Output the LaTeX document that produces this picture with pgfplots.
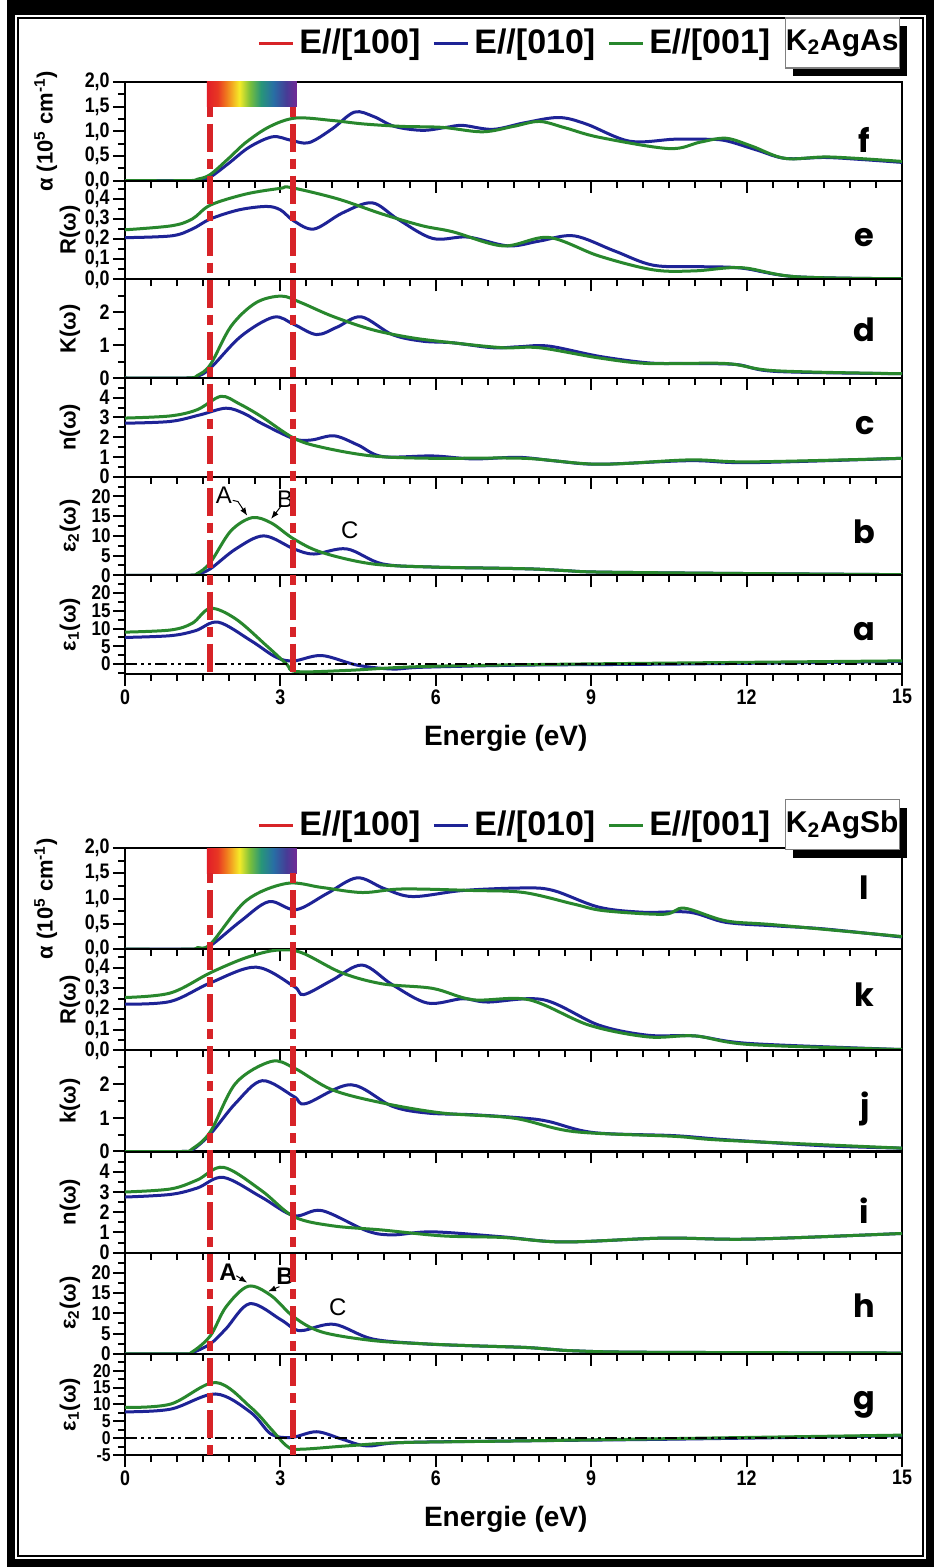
\documentclass[border=0pt]{standalone}
\usepackage{fontspec}
\setmainfont{Liberation Sans}
\newfontfamily\condfont[FakeStretch=0.85]{Liberation Sans}
\newfontfamily\letterfont{Poppins}
\usepackage{pgfplots}
\pgfplotsset{compat=1.18}
\usetikzlibrary{arrows.meta}
\definecolor{cblue}{RGB}{30,35,150}
\definecolor{cgreen}{RGB}{40,135,45}
\definecolor{cred}{RGB}{215,35,40}
\definecolor{rb0}{RGB}{225,30,40}
\definecolor{rb1}{RGB}{232,55,35}
\definecolor{rb2}{RGB}{240,125,30}
\definecolor{rb3}{RGB}{245,235,40}
\definecolor{rb4}{RGB}{120,190,60}
\definecolor{rb5}{RGB}{40,150,120}
\definecolor{rb6}{RGB}{40,110,165}
\definecolor{rb7}{RGB}{70,60,150}
\definecolor{rb8}{RGB}{115,40,150}
\pgfdeclarehorizontalshading{rainbow}{100bp}{color(0bp)=(rb0); color(25bp)=(rb0); color(31bp)=(rb1); color(36bp)=(rb2); color(43bp)=(rb3); color(49bp)=(rb4); color(55bp)=(rb5); color(62bp)=(rb6); color(69bp)=(rb7); color(75bp)=(rb8); color(100bp)=(rb8)}
\newcommand{\tlfont}{\condfont\bfseries\fontsize{10.5}{12}\selectfont}
\newcommand{\tlfonts}{\condfont\bfseries\fontsize{10}{11}\selectfont}
\newcommand{\tlfontxs}{\condfont\bfseries\fontsize{9.3}{10}\selectfont}
\pgfplotsset{
  base/.style={
    scale only axis, width=388.5pt, anchor=north west,
    xmin=0, xmax=15, xtick={0,3,...,15}, minor xtick={0,0.5,...,15},
    tick align=outside, xtick pos=left, ytick pos=left,
    major tick length=6pt, minor tick length=3.5pt,
    every tick/.style={black, line width=1pt},
    axis line style={line width=1pt},
    /pgf/number format/assume math mode=true,
    tick label style={font=\tlfont, inner sep=1.5pt},
    xticklabels={},
    every axis y label/.style={at={(axis description cs:-0.071,0.5)}, rotate=90, anchor=center, font=\bfseries\fontsize{11}{12}\selectfont},
    every axis x label/.style={at={(axis description cs:0.49,0)}, anchor=north, yshift=-22pt, font=\bfseries\fontsize{14}{16}\selectfont},
    legend image code/.code={\draw[#1,line width=1.5pt] (0pt,0pt) -- (17pt,0pt);},
  },
  top/.style={base, height=49.33pt},
  bot/.style={base, height=50.58pt},
  small/.style={yticklabel style={font=\tlfonts, inner sep=1pt}},
  xsmall/.style={yticklabel style={font=\tlfontxs, inner ysep=0pt, inner xsep=1pt}},
  comma/.style={yticklabel style={/pgf/number format/.cd, fixed, fixed zerofill, precision=1, use comma}},
  bl/.style={cblue, line width=1.5pt, smooth, tension=0.55},
  gr/.style={cgreen, line width=1.5pt, smooth, tension=0.55},
  zl/.style={black, line width=1.2pt, dash pattern=on 6pt off 2pt on 1.5pt off 2pt on 1.5pt off 2pt},
  leg/.style={legend style={at={(axis description cs:0.503,#1)}, anchor=center, draw=none, fill=none, legend columns=3, font=\bfseries\fontsize{17}{18}\selectfont, nodes={inner xsep=2pt}, /tikz/every odd column/.append style={column sep=0.5pt}, /tikz/every even column/.append style={column sep=4pt}}},
}
\newcommand{\lett}[2]{\node[font=\letterfont\bfseries\fontsize{16}{18}\selectfont] at (axis description cs:0.952,#1) {#2};}
\newcommand{\compound}[2]{%
  \node[fill=black, minimum width=57pt, minimum height=25pt, inner sep=0pt] at ([xshift=4pt,yshift=-4pt]#1) {};
  \node[fill=white, draw=gray, line width=0.6pt, minimum width=57pt, minimum height=25pt, inner sep=0pt, font=\bfseries\fontsize{15}{16}\selectfont] at (#1) {#2};}
\begin{document}
\begin{tikzpicture}
\useasboundingbox (0,0) rectangle ({936*0.5pt},{-1568*0.5pt});
% frame
\fill[black] ({7*0.5pt},0) rectangle ({934*0.5pt},{-1567*0.5pt});
\fill[white] ({15*0.5pt},{-15*0.5pt}) rectangle ({926*0.5pt},{-1559*0.5pt});
\draw[black, line width=0.8pt] ({18*0.5pt},{-18*0.5pt}) rectangle ({923*0.5pt},{-1556*0.5pt});

%================ TOP GROUP ================
% f: alpha
\begin{axis}[top, comma, leg=1.395, at={({125*0.5pt},{-82*0.5pt})}, ymin=0, ymax=2, ytick={0,0.5,...,2}, minor ytick={0.25,0.75,1.25,1.75},
  ylabel={α (10\textsuperscript{5} cm\textsuperscript{-1})}, every axis y label/.append style={at={(axis description cs:-0.102,0.5)}}]
\addlegendimage{cred}\addlegendentry{E//[100]}
\addlegendimage{cblue}\addlegendentry{E//[010]}
\addlegendimage{cgreen}\addlegendentry{E//[001]}
\shade[shading=rainbow] (axis cs:1.58,1.5) rectangle (axis cs:3.32,2.0);
\addplot[bl, forget plot] coordinates {(0,0) (1.2,0) (1.4,0.01) (1.64,0.07) (2.0,0.35) (2.4,0.68) (2.85,0.89) (3.2,0.82) (3.55,0.77) (4.0,1.05) (4.43,1.39) (4.8,1.3) (5.2,1.1) (5.74,1.02) (6.2,1.08) (6.52,1.12) (7.1,1.04) (7.7,1.17) (8.37,1.28) (8.9,1.15) (9.74,0.80) (10.6,0.84) (11.2,0.84) (11.6,0.81) (12.2,0.62) (12.75,0.45) (13.5,0.47) (14.2,0.43) (15,0.37)};
\addplot[gr, forget plot] coordinates {(0,0) (1.2,0) (1.4,0.03) (1.64,0.12) (2.0,0.45) (2.34,0.78) (2.8,1.1) (3.3,1.27) (4.0,1.22) (4.6,1.15) (5.35,1.1) (6.13,1.08) (6.9,0.99) (7.5,1.1) (8.0,1.2) (8.5,1.07) (9.15,0.88) (10.5,0.65) (11.1,0.78) (11.6,0.86) (12.1,0.7) (12.75,0.45) (13.6,0.48) (15,0.39)};
\coordinate (Tf1) at (axis cs:1.64,1.5); \coordinate (Tf2) at (axis cs:3.24,1.5);
\coordinate (Tbox) at (axis description cs:0.923,1.395);
\lett{0.41}{f}
\end{axis}
% e: R
\begin{axis}[top, comma, at={({125*0.5pt},{-180.67*0.5pt})}, ymin=0, ymax=0.49, ytick={0,0.1,...,0.41}, minor ytick={0.05,0.15,0.25,0.35,0.45}, ylabel={R(ω)}]
\addplot[bl] coordinates {(0,0.207) (0.9,0.216) (1.3,0.25) (1.65,0.30) (2.2,0.345) (2.73,0.362) (3.0,0.345) (3.26,0.29) (3.65,0.25) (4.2,0.33) (4.77,0.38) (5.26,0.30) (5.94,0.203) (6.62,0.21) (7.4,0.166) (8.0,0.19) (8.67,0.216) (9.45,0.141) (10.2,0.07) (11.1,0.063) (11.9,0.056) (12.95,0.013) (15,0.003)};
\addplot[gr] coordinates {(0,0.246) (0.9,0.266) (1.3,0.30) (1.65,0.369) (2.34,0.424) (3.0,0.452) (3.2,0.456) (4.1,0.40) (4.97,0.324) (5.74,0.266) (6.33,0.236) (7.3,0.166) (8.18,0.208) (9.15,0.116) (10.2,0.047) (11.0,0.042) (11.9,0.058) (12.95,0.013) (15,0.003)};
\lett{0.42}{e}
\end{axis}
% d: K
\begin{axis}[top, at={({125*0.5pt},{-279.33*0.5pt})}, ymin=0, ymax=3, ytick={0,1,2}, minor ytick={0.5,1.5,2.5}, ylabel={K(ω)}]
\addplot[bl] coordinates {(0,0) (1.2,0) (1.4,0.05) (1.65,0.3) (2.24,1.27) (2.87,1.85) (3.26,1.63) (3.7,1.32) (4.1,1.55) (4.56,1.86) (5.16,1.32) (5.74,1.12) (6.33,1.07) (7.1,0.92) (7.6,0.95) (8.18,0.97) (9.15,0.66) (10.1,0.46) (10.8,0.44) (11.8,0.41) (12.56,0.2) (15,0.13)};
\addplot[gr] coordinates {(0,0) (1.2,0) (1.4,0.08) (1.65,0.41) (2.05,1.58) (2.53,2.29) (3.02,2.49) (3.4,2.29) (4.0,1.88) (4.77,1.47) (5.55,1.22) (6.33,1.07) (7.3,0.92) (8.0,0.92) (9.15,0.61) (10.1,0.44) (11.6,0.44) (12.56,0.22) (15,0.13)};
\lett{0.49}{d}
\end{axis}
% c: n
\begin{axis}[top, at={({125*0.5pt},{-378*0.5pt})}, ymin=0, ymax=5, ytick={0,1,...,4}, minor ytick={0.5,1.5,...,4.5}, ylabel={n(ω)}]
\addplot[bl] coordinates {(0,2.71) (0.88,2.8) (1.46,3.14) (1.95,3.47) (2.3,3.2) (2.63,2.71) (3.26,1.92) (3.6,1.86) (4.04,2.07) (4.5,1.6) (4.97,1.02) (5.94,1.05) (6.72,0.9) (7.6,0.98) (8.3,0.8) (9.15,0.63) (10.9,0.81) (12.07,0.71) (15,0.93)};
\addplot[gr] coordinates {(0,2.97) (0.88,3.08) (1.4,3.4) (1.85,4.07) (2.2,3.7) (2.63,3.05) (3.26,1.95) (3.8,1.49) (4.77,1.05) (5.94,0.93) (7.7,0.93) (9.15,0.63) (10.9,0.85) (12.07,0.75) (15,0.93)};
\lett{0.52}{c}
\end{axis}
% b: eps2
\begin{axis}[top, small, at={({125*0.5pt},{-476.67*0.5pt})}, ymin=0, ymax=25, ytick={0,5,...,20}, minor ytick={2.5,7.5,...,22.5}, ylabel={ε\textsubscript{2}(ω)}]
\addplot[bl] coordinates {(0,0) (1.2,0) (1.4,0.3) (1.65,1.67) (2.14,6.7) (2.68,10) (3.26,6.7) (3.65,5.4) (4.28,6.7) (4.97,2.9) (5.94,2.1) (7.2,1.8) (7.9,1.6) (8.5,1.2) (9.15,0.83) (11.6,0.5) (15,0.17)};
\addplot[gr] coordinates {(0,0) (1.2,0) (1.4,0.5) (1.65,3.3) (2.04,11.2) (2.45,14.6) (2.82,13.3) (3.26,9.2) (3.8,5.8) (4.77,2.9) (5.94,2.1) (7.2,1.8) (7.9,1.6) (8.5,1.2) (9.15,0.83) (11.6,0.5) (15,0.17)};
\node[font=\fontsize{12}{13}\selectfont] at (axis cs:1.91,20.4) {A};
\node[font=\fontsize{12}{13}\selectfont] at (axis cs:3.09,19.3) {B};
\node[font=\fontsize{12}{13}\selectfont] at (axis cs:4.34,11.5) {C};
\draw[black, line width=0.5pt, -{Latex[length=4pt,width=3pt]}] (axis cs:2.08,19.0) -- (axis cs:2.18,18.7) -- (axis cs:2.36,15.1);
\draw[black, line width=0.5pt, -{Latex[length=4pt,width=3pt]}] (axis cs:3.03,17.8) -- (axis cs:2.82,14.3);
\lett{0.44}{b}
\end{axis}
% a: eps1
\begin{axis}[top, small, at={({125*0.5pt},{-575.33*0.5pt})}, ymin=-2.8, ymax=25, ytick={0,5,...,20}, minor ytick={-2.5,2.5,7.5,...,22.5}, ylabel={ε\textsubscript{1}(ω)},
  xticklabels={0,3,6,9,12,15}, xlabel={Energie (eV)}]
\addplot[bl] coordinates {(0,7.5) (0.88,8.0) (1.36,9.4) (1.8,11.8) (2.43,6.6) (2.92,1.9) (3.26,0.9) (3.8,2.4) (4.48,-0.3) (5.16,-1.4) (5.74,-0.9) (7.7,-0.3) (10.6,0) (15,0.7)};
\addplot[gr] coordinates {(0,9.0) (0.88,9.6) (1.3,11.5) (1.65,15.7) (2.14,12.7) (2.73,5.2) (3.12,0) (3.3,-2.1) (4.28,-1.8) (5.74,-0.7) (8.7,0) (15,0.9)};
\addplot[zl] coordinates {(0,0) (15,0)};
\coordinate (Ta1) at (axis cs:1.64,-2.8); \coordinate (Ta2) at (axis cs:3.24,-2.8);
\lett{0.43}{a}
\end{axis}

%================ BOTTOM GROUP ================
% l: alpha
\begin{axis}[bot, comma, leg=1.227, at={({125*0.5pt},{-848*0.5pt})}, ymin=0, ymax=2, ytick={0,0.5,...,2}, minor ytick={0.25,0.75,1.25,1.75},
  ylabel={α (10\textsuperscript{5} cm\textsuperscript{-1})}, every axis y label/.append style={at={(axis description cs:-0.102,0.5)}}]
\addlegendimage{cred}\addlegendentry{E//[100]}
\addlegendimage{cblue}\addlegendentry{E//[010]}
\addlegendimage{cgreen}\addlegendentry{E//[001]}
\shade[shading=rainbow] (axis cs:1.58,1.5) rectangle (axis cs:3.32,2.0);
\addplot[bl, forget plot] coordinates {(0,0) (1.25,0) (1.4,0.01) (1.65,0.07) (2.24,0.56) (2.78,0.94) (3.3,0.78) (3.9,1.1) (4.48,1.41) (5.0,1.2) (5.55,1.04) (6.52,1.16) (7.7,1.21) (8.27,1.16) (9.15,0.83) (10.0,0.73) (10.9,0.73) (11.6,0.53) (12.56,0.46) (13.5,0.40) (15,0.24)};
\addplot[gr, forget plot] coordinates {(0,0) (1.25,0) (1.4,0.03) (1.65,0.1) (2.34,0.96) (3.12,1.3) (3.8,1.22) (4.58,1.12) (5.35,1.19) (6.72,1.16) (7.7,1.12) (8.67,0.89) (9.25,0.76) (10.4,0.69) (10.8,0.81) (11.6,0.56) (12.56,0.48) (15,0.25)};
\coordinate (Bl1) at (axis cs:1.64,1.5); \coordinate (Bl2) at (axis cs:3.24,1.5);
\coordinate (Bbox) at (axis description cs:0.923,1.23);
\lett{0.61}{l}
\end{axis}
% k: R
\begin{axis}[bot, comma, at={({125*0.5pt},{-949.17*0.5pt})}, ymin=0, ymax=0.49, ytick={0,0.1,...,0.41}, minor ytick={0.05,0.15,0.25,0.35,0.45}, ylabel={R(ω)}]
\addplot[bl] coordinates {(0,0.224) (0.88,0.237) (1.65,0.327) (2.53,0.403) (3.26,0.31) (3.45,0.27) (4.0,0.34) (4.58,0.413) (5.16,0.318) (5.84,0.229) (6.52,0.25) (7.0,0.234) (8.08,0.245) (9.15,0.122) (10.1,0.073) (11.0,0.07) (12.07,0.033) (15,0.004)};
\addplot[gr] coordinates {(0,0.256) (0.88,0.278) (1.65,0.376) (2.34,0.449) (2.92,0.485) (3.4,0.474) (4.18,0.376) (4.97,0.322) (5.94,0.3) (6.72,0.245) (7.8,0.245) (8.96,0.122) (10.1,0.065) (11.0,0.07) (12.07,0.028) (15,0.004)};
\lett{0.55}{k}
\end{axis}
% j: k
\begin{axis}[bot, at={({125*0.5pt},{-1050.33*0.5pt})}, ymin=0, ymax=3, ytick={0,1,2}, minor ytick={0.5,1.5,2.5}, ylabel={k(ω)}]
\addplot[bl] coordinates {(0,0) (1.1,0) (1.3,0.05) (1.65,0.52) (2.14,1.44) (2.65,2.1) (3.26,1.63) (3.49,1.42) (4.36,1.98) (5.16,1.34) (5.84,1.14) (6.72,1.09) (7.7,0.99) (8.18,0.89) (9.05,0.56) (10.6,0.47) (11.6,0.35) (13.5,0.17) (15,0.1)};
\addplot[gr] coordinates {(0,0) (1.1,0) (1.3,0.08) (1.65,0.59) (2.14,2.03) (2.82,2.67) (3.26,2.48) (4.0,1.83) (4.97,1.44) (6.13,1.14) (7.5,0.99) (8.67,0.59) (10.6,0.45) (11.6,0.33) (15,0.1)};
\lett{0.42}{j}
\end{axis}
% i: n
\begin{axis}[bot, at={({125*0.5pt},{-1151.5*0.5pt})}, ymin=0, ymax=5, ytick={0,1,...,4}, minor ytick={0.5,1.5,...,4.5}, ylabel={n(ω)}]
\addplot[bl] coordinates {(0,2.75) (0.88,2.88) (1.4,3.2) (1.9,3.72) (2.63,2.75) (3.26,1.83) (3.8,2.08) (4.67,1.08) (5.16,0.88) (5.94,1.03) (7.3,0.78) (8.47,0.53) (10.4,0.72) (12.07,0.67) (15,0.95)};
\addplot[gr] coordinates {(0,3.0) (0.88,3.15) (1.4,3.6) (1.9,4.22) (2.63,3.08) (3.26,1.78) (4.0,1.33) (4.97,1.12) (6.13,0.83) (7.3,0.75) (8.47,0.53) (10.4,0.72) (12.07,0.67) (15,0.95)};
\lett{0.42}{i}
\end{axis}
% h: eps2
\begin{axis}[bot, small, at={({125*0.5pt},{-1252.67*0.5pt})}, ymin=0, ymax=25, ytick={0,5,...,20}, minor ytick={2.5,7.5,...,22.5}, ylabel={ε\textsubscript{2}(ω)}]
\addplot[bl] coordinates {(0,0) (1.1,0) (1.3,0.3) (1.65,2.5) (1.95,6.2) (2.41,12.4) (3.0,8.5) (3.26,6.2) (3.45,5.8) (4.04,7.3) (4.77,3.7) (5.74,2.5) (6.7,2.0) (7.7,1.6) (8.2,1.15) (8.67,0.75) (10,0.4) (15,0.2)};
\addplot[gr] coordinates {(0,0) (1.1,0) (1.3,0.5) (1.65,4.5) (1.95,11.6) (2.38,16.7) (2.82,14.4) (3.26,9.1) (3.8,5.4) (4.77,3.3) (5.74,2.5) (6.7,2.0) (7.7,1.6) (8.2,1.15) (8.67,0.75) (10,0.4) (15,0.2)};
\node[font=\bfseries\fontsize{12}{13}\selectfont] at (axis cs:1.99,20.2) {A};
\node[font=\bfseries\fontsize{12}{13}\selectfont] at (axis cs:3.09,19.2) {B};
\node[font=\fontsize{12}{13}\selectfont] at (axis cs:4.11,11.6) {C};
\draw[black, line width=0.5pt, -{Latex[length=4pt,width=3pt]}] (axis cs:2.15,19.3) -- (axis cs:2.36,17.6);
\draw[black, line width=0.5pt, -{Latex[length=4pt,width=3pt]}] (axis cs:2.98,16.6) -- (axis cs:2.76,15.4);
\lett{0.48}{h}
\end{axis}
% g: eps1
\begin{axis}[bot, xsmall, at={({125*0.5pt},{-1353.83*0.5pt})}, ymin=-5, ymax=25, ytick={-5,0,...,20}, minor ytick={-2.5,2.5,7.5,...,22.5}, ylabel={ε\textsubscript{1}(ω)},
  xticklabels={0,3,6,9,12,15}, xlabel={Energie (eV)}]
\addplot[bl] coordinates {(0,7.8) (0.88,8.6) (1.75,13.1) (2.43,7.6) (2.82,1.2) (3.21,0.2) (3.7,1.9) (4.19,-0.3) (4.67,-2.3) (5.36,-1.3) (7.7,-0.8) (10.6,-0.3) (15,0.7)};
\addplot[gr] coordinates {(0,9.1) (0.88,10.1) (1.75,16.5) (2.43,9.1) (2.82,2.7) (3.12,-2.3) (3.36,-3.3) (4.28,-2.3) (5.36,-1.3) (7.7,-0.8) (15,0.9)};
\addplot[zl] coordinates {(0,0) (15,0)};
\coordinate (Bg1) at (axis cs:1.64,-5); \coordinate (Bg2) at (axis cs:3.24,-5);
\lett{0.5}{g}
\end{axis}

% visible-range markers
\begin{scope}[cred, line width=3pt, dash pattern=on 5pt off 3.5pt on 14pt off 3.5pt]
\draw (Tf1) -- (Ta1); \draw (Tf2) -- (Ta2);
\draw (Bl1) -- (Bg1); \draw (Bl2) -- (Bg2);
\end{scope}
\compound{Tbox}{K\textsubscript{2}AgAs}
\compound{Bbox}{K\textsubscript{2}AgSb}
\end{tikzpicture}
\end{document}
